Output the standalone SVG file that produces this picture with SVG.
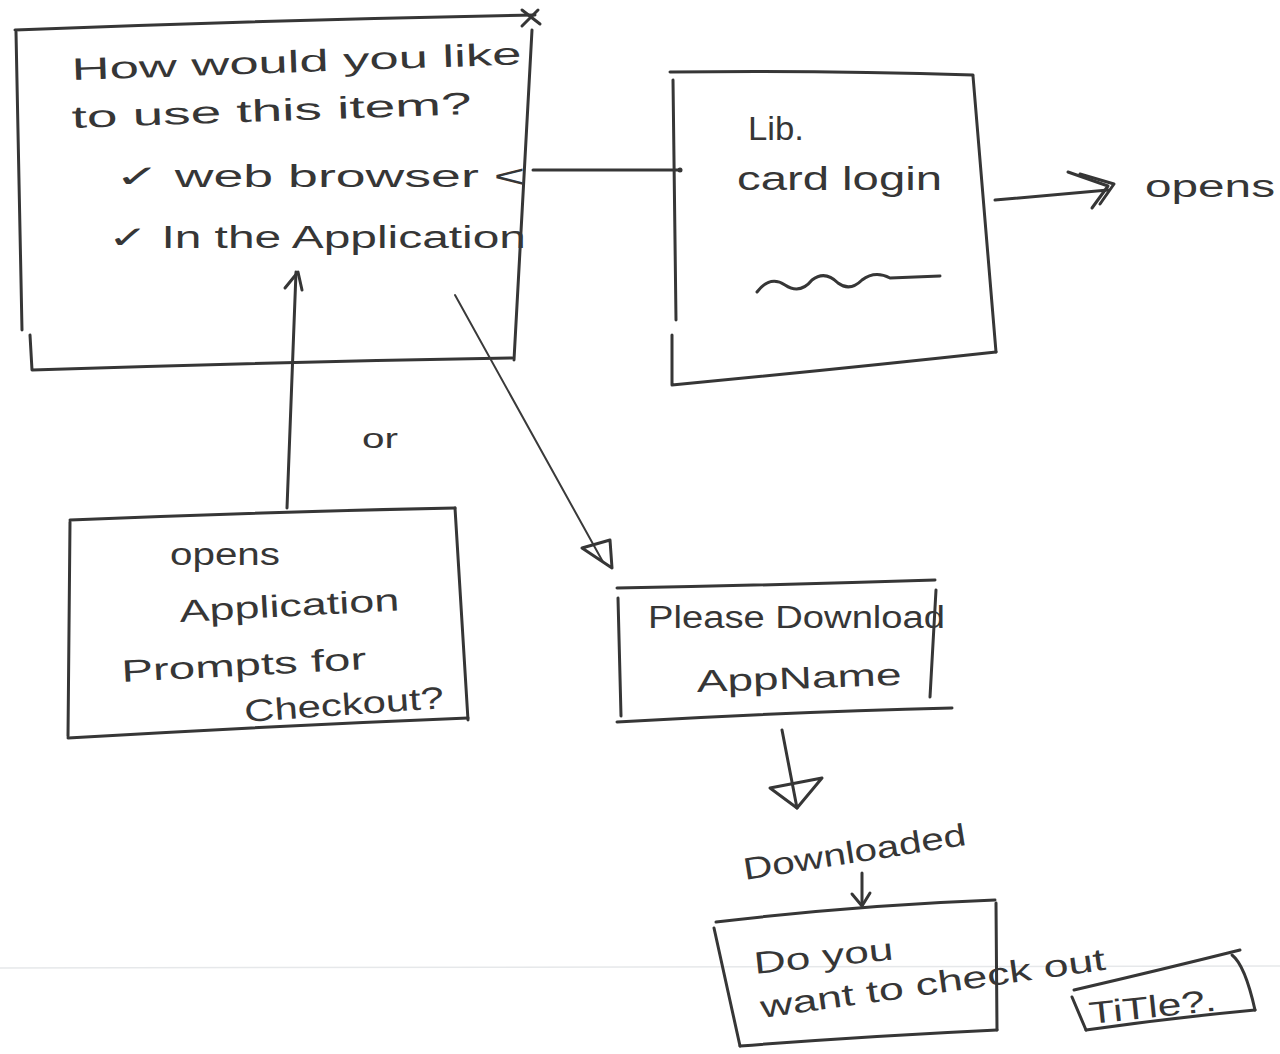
<svg xmlns="http://www.w3.org/2000/svg" width="1280" height="1054" viewBox="0 0 1280 1054">
<defs>
<style>
.s{fill:none;stroke:#363636;stroke-width:3;stroke-linecap:round;stroke-linejoin:round}
.t{fill:#363636;font-family:"Liberation Sans","DejaVu Sans",sans-serif;font-size:31px}
.thin{fill:none;stroke:#3a3a3a;stroke-width:2;stroke-linecap:round}
</style>
</defs>
<rect width="1280" height="1054" fill="#ffffff"/>
<line x1="0" y1="968" x2="1280" y2="966" stroke="#e6e8ea" stroke-width="1.5"/>

<g id="node-choice">
<path class="s" d="M15,30 Q270,20 535,15"/>
<path class="s" d="M16,32 L22,330"/>
<path class="s" d="M30,335 L32,370 Q270,362 512,358"/>
<path class="s" d="M532,30 L514,360"/>
<path class="s" d="M522,10 L540,24 M538,10 L522,26"/>
<text class="t" x="72" y="80" textLength="450" lengthAdjust="spacingAndGlyphs" transform="rotate(-2 72 80)">How would you like</text>
<text class="t" x="72" y="128" textLength="400" lengthAdjust="spacingAndGlyphs" transform="rotate(-2 72 128)">to use this item?</text>
<text class="t" x="115" y="187" textLength="410" lengthAdjust="spacingAndGlyphs">✓ web browser &lt;</text>
<text class="t" x="108" y="248" textLength="418" lengthAdjust="spacingAndGlyphs">✓ In the Application</text>
</g>

<g id="node-login">
<path class="s" d="M670,72 Q820,70 973,75"/>
<path class="s" d="M673,80 L676,320"/>
<path class="s" d="M672,335 L672,385 Q830,370 996,352"/>
<path class="s" d="M973,76 L996,352"/>
<text class="t" x="748" y="140" textLength="56" lengthAdjust="spacingAndGlyphs" style="font-size:34px">Lib.</text>
<text class="t" x="737" y="190" textLength="205" lengthAdjust="spacingAndGlyphs" style="font-size:34px">card login</text>
<path class="s" d="M757,292 Q770,275 785,285 Q800,295 812,280 Q825,270 838,283 Q850,292 862,280 Q875,270 890,278 L940,276"/>
</g>

<g id="node-opens-label">
<text class="t" x="1145" y="197" textLength="130" lengthAdjust="spacingAndGlyphs">opens</text>
</g>

<g id="node-app">
<path class="s" d="M70,520 Q260,512 455,508"/>
<path class="s" d="M70,522 L68,736"/>
<path class="s" d="M455,508 L468,720"/>
<path class="s" d="M68,738 Q270,726 468,718"/>
<text class="t" x="170" y="565" textLength="110" lengthAdjust="spacingAndGlyphs">opens</text>
<text class="t" x="180" y="622" textLength="220" lengthAdjust="spacingAndGlyphs" transform="rotate(-3 180 622)">Application</text>
<text class="t" x="122" y="682" textLength="245" lengthAdjust="spacingAndGlyphs" transform="rotate(-3 122 682)">Prompts for</text>
<text class="t" x="245" y="722" textLength="200" lengthAdjust="spacingAndGlyphs" transform="rotate(-4 245 722)">Checkout?</text>
</g>

<g id="node-or">
<text class="t" x="362" y="448" textLength="36" lengthAdjust="spacingAndGlyphs" style="font-size:27px">or</text>
</g>

<g id="node-download">
<path class="s" d="M617,588 Q780,585 935,580"/>
<path class="s" d="M618,598 L621,716"/>
<path class="s" d="M936,590 L930,697"/>
<path class="s" d="M617,722 Q790,712 952,708"/>
<text class="t" x="648" y="628" textLength="297" lengthAdjust="spacingAndGlyphs">Please Download</text>
<text class="t" x="697" y="692" textLength="205" lengthAdjust="spacingAndGlyphs" transform="rotate(-2 697 692)">AppName</text>
</g>

<g id="node-downloaded">
<text class="t" x="745" y="880" textLength="225" lengthAdjust="spacingAndGlyphs" transform="rotate(-9 745 880)">Downloaded</text>
</g>

<g id="node-checkout">
<path class="s" d="M716,922 Q860,905 995,900"/>
<path class="s" d="M714,928 L740,1046"/>
<path class="s" d="M996,903 L997,1030"/>
<path class="s" d="M740,1046 Q870,1036 997,1030"/>
<text class="t" x="755" y="974" textLength="140" lengthAdjust="spacingAndGlyphs" transform="rotate(-6 755 974)">Do you</text>
<text class="t" x="762" y="1018" textLength="348" lengthAdjust="spacingAndGlyphs" transform="rotate(-8 762 1018)">want to check out</text>
</g>

<g id="node-title">
<path class="s" d="M1074,990 Q1160,970 1240,950"/>
<path class="s" d="M1232,955 Q1245,965 1255,1010"/>
<path class="s" d="M1086,1030 Q1170,1018 1255,1010"/>
<path class="s" d="M1072,997 L1086,1030"/>
<text class="t" x="1090" y="1024" textLength="128" lengthAdjust="spacingAndGlyphs" transform="rotate(-6 1090 1024)">TiTle?.</text>
</g>

<g id="connectors">
<path class="s" d="M533,170 L680,170"/>
<circle cx="680" cy="170" r="2.5" fill="#363636"/>
<path class="s" d="M995,200 L1108,190"/>
<path class="s" d="M1068,172 L1108,186 L1092,208"/>
<path class="s" d="M1080,174 L1114,184 L1100,204"/>
<path class="s" d="M287,508 L296,272"/>
<path class="s" d="M285,288 L298,272 L302,290"/>
<path class="thin" d="M455,295 L603,562"/>
<path class="s" d="M582,548 L612,568 L610,540 Z"/>
<path class="s" d="M782,730 L797,808"/>
<path class="s" d="M770,788 L822,778 L797,808 Z"/>
<path class="s" d="M862,873 L862,905"/>
<path class="s" d="M852,894 L862,906 L870,893"/>
</g>
</svg>
